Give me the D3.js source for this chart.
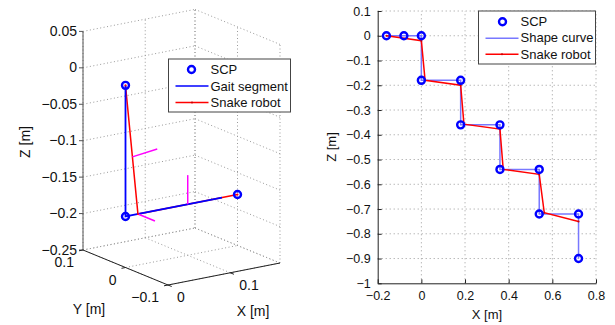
<!DOCTYPE html>
<html>
<head>
<meta charset="utf-8">
<script src="https://cdn.jsdelivr.net/npm/d3@7"></script>
<style>
  body { margin: 0; background: #fff; }
  svg { display: block; font-family: "Liberation Sans", Arial, Helvetica, sans-serif; }
</style>
</head>
<body>
<svg id="chart" width="615" height="325"></svg>
<script>
// ---- data: right plot (X-Z plane) ----
const scpX = [-0.16, -0.08, 0, 0, 0.18, 0.18, 0.36, 0.36, 0.54, 0.54, 0.72, 0.72];
const scpZ = [0, 0, 0, -0.18, -0.18, -0.36, -0.36, -0.54, -0.54, -0.72, -0.72, -0.9];
const robotX = [-0.16, 0, 0.017, 0.18, 0.195, 0.36, 0.375, 0.54, 0.563, 0.72];
const robotZ = [0, -0.02, -0.18, -0.2, -0.357, -0.377, -0.54, -0.56, -0.715, -0.75];
const xTicksR = [-0.2, 0, 0.2, 0.4, 0.6, 0.8];
const zTicksR = [0.1, 0, -0.1, -0.2, -0.3, -0.4, -0.5, -0.6, -0.7, -0.8, -0.9, -1];

// ---- data: left plot (3D, one gait segment) ----
const scp3 = [[0, 0, 0], [0, 0, -0.18], [0.18, 0, -0.18]];
const gait3 = [[0, 0, 0], [0, 0, -0.18], [0.155, 0, -0.18]];
const robot3 = [[0, 0, 0], [0.02, 0, -0.18], [0.18, 0, -0.18]];
const jointAxes3 = [
  [[0.011, 0, -0.10], [0.051, 0, -0.096]],
  [[0.10, 0, -0.18], [0.10, 0, -0.14]],
  [[0.02, 0, -0.18], [0.02, -0.04, -0.18]]
];
const xTicks3 = [0, 0.1];
const yTicks3 = [0.1, 0, -0.1];
const zTicks3 = [0.05, 0, -0.05, -0.1, -0.15, -0.2, -0.25];

const svg = d3.select('#chart');
const fmt = d3.format('~g');
const gridCol = '#9a9a9a';

// =============== left: 3D view ===============
const left = svg.append('g');
// each coordinate -> fraction of the box, then onto the projected box edges
const fx = d3.scaleLinear().domain([0, 0.18]).range([0, 1]);
const fy = d3.scaleLinear().domain([-0.1, 0.1]).range([0, 1]);
const fz = d3.scaleLinear().domain([-0.25, 0.05]).range([0, 1]);
const corner = [168, 285];       // (xmin, ymin, zmin)
const ex = [112, -22], ey = [-85, -35], ez = [0, -218.6];

function proj(p) {
  const a = fx(p[0]), b = fy(p[1]), c = fz(p[2]);
  return [corner[0] + a * ex[0] + b * ey[0] + c * ez[0],
          corner[1] + a * ex[1] + b * ey[1] + c * ez[1]];
}

const line3 = d3.line().x(p => proj(p)[0]).y(p => proj(p)[1]);

function seg3(g, a, b, col, dash, w) {
  g.append('path').attr('d', line3([a, b]))
    .attr('stroke', col).attr('stroke-width', w || 1).attr('fill', 'none')
    .attr('stroke-dasharray', dash || null);
}

// grid on back walls and floor
const grid3 = left.append('g');
const xMax = 0.18, yMax = 0.1, zMin = -0.25, zMax = 0.05;
zTicks3.forEach(z => {
  seg3(grid3, [0, yMax, z], [xMax, yMax, z], gridCol, '1,2.5');
  seg3(grid3, [xMax, yMax, z], [xMax, -0.1, z], gridCol, '1,2.5');
});
xTicks3.concat([xMax]).forEach(x => {
  seg3(grid3, [x, yMax, zMin], [x, yMax, zMax], gridCol, '1,2.5');
  seg3(grid3, [x, -0.1, zMin], [x, yMax, zMin], gridCol, '1,2.5');
});
yTicks3.forEach(y => {
  seg3(grid3, [xMax, y, zMin], [xMax, y, zMax], gridCol, '1,2.5');
  seg3(grid3, [0, y, zMin], [xMax, y, zMin], gridCol, '1,2.5');
});

// axis lines
seg3(left, [0, yMax, zMin], [0, yMax, zMax], '#555', null, 1);
seg3(left, [0, yMax, zMin], [0, -0.1, zMin], '#222', null, 1);
seg3(left, [0, -0.1, zMin], [xMax, -0.1, zMin], '#222', null, 1);

// z ticks + labels
zTicks3.forEach(z => {
  const p = proj([0, yMax, z]);
  left.append('line').attr('x1', p[0] - 4).attr('x2', p[0]).attr('y1', p[1]).attr('y2', p[1])
    .attr('stroke', '#555');
  left.append('text').attr('x', p[0] - 6).attr('y', p[1] + 4.5)
    .attr('text-anchor', 'end').attr('font-size', 14).attr('fill', '#111')
    .text(fmt(z));
});
// y ticks + labels
yTicks3.forEach(y => {
  const p = proj([0, y, zMin]);
  left.append('line').attr('x1', p[0]).attr('y1', p[1]).attr('x2', p[0] - 4).attr('y2', p[1] + 0.8)
    .attr('stroke', '#222');
  left.append('text').attr('x', p[0] - 9).attr('y', p[1] + 17)
    .attr('text-anchor', 'end').attr('font-size', 14).attr('fill', '#111')
    .text(fmt(y));
});
// x ticks + labels
xTicks3.forEach(x => {
  const p = proj([x, -0.1, zMin]);
  left.append('line').attr('x1', p[0]).attr('y1', p[1]).attr('x2', p[0] + 3.7).attr('y2', p[1] + 1.5)
    .attr('stroke', '#222');
  left.append('text').attr('x', p[0] + 9).attr('y', p[1] + 17)
    .attr('text-anchor', 'start').attr('font-size', 14).attr('fill', '#111')
    .text(fmt(x));
});

left.append('text').attr('transform', 'translate(30,142) rotate(-90)')
  .attr('text-anchor', 'middle').attr('font-size', 14).attr('fill', '#111').text('Z [m]');
left.append('text').attr('x', 89).attr('y', 314)
  .attr('text-anchor', 'middle').attr('font-size', 14).attr('fill', '#111').text('Y [m]');
left.append('text').attr('x', 253).attr('y', 316)
  .attr('text-anchor', 'middle').attr('font-size', 14).attr('fill', '#111').text('X [m]');

// data: snake robot, gait segment, joint axes, SCPs
left.append('path').attr('d', line3(robot3))
  .attr('stroke', '#ff0000').attr('stroke-width', 1.5).attr('fill', 'none');
left.append('path').attr('d', line3(gait3))
  .attr('stroke', '#0000ff').attr('stroke-width', 1.8).attr('fill', 'none');
jointAxes3.forEach(s => seg3(left, s[0], s[1], '#ff00ff', null, 1.5));
left.selectAll('circle.scp').data(scp3).enter().append('circle')
  .attr('cx', p => proj(p)[0]).attr('cy', p => proj(p)[1]).attr('r', 3.5)
  .attr('fill', 'none').attr('stroke', '#0000ff').attr('stroke-width', 2.4);
left.selectAll('circle.rd').data(robot3).enter().append('circle')
  .attr('cx', p => proj(p)[0]).attr('cy', p => proj(p)[1]).attr('r', 1)
  .attr('fill', '#ff0000');

// legend (left)
const lgL = left.append('g').attr('transform', 'translate(168.5,59)');
lgL.append('rect').attr('width', 122).attr('height', 53)
  .attr('fill', '#fff').attr('stroke', '#444').attr('stroke-width', 1);
lgL.append('circle').attr('cx', 23).attr('cy', 10.5).attr('r', 3.5)
  .attr('fill', 'none').attr('stroke', '#0000ff').attr('stroke-width', 2.4);
lgL.append('line').attr('x1', 7).attr('x2', 40).attr('y1', 27).attr('y2', 27)
  .attr('stroke', '#0000ff').attr('stroke-width', 1.5);
lgL.append('line').attr('x1', 7).attr('x2', 40).attr('y1', 43.5).attr('y2', 43.5)
  .attr('stroke', '#ff0000').attr('stroke-width', 1.5);
lgL.append('circle').attr('cx', 23.5).attr('cy', 43.5).attr('r', 1).attr('fill', '#cc0000');
['SCP', 'Gait segment', 'Snake robot'].forEach((t, i) => {
  lgL.append('text').attr('x', 42).attr('y', 15 + i * 16.6)
    .attr('font-size', 13).attr('fill', '#111').text(t);
});

// =============== right: X-Z plane ===============
const right = svg.append('g');
const x = d3.scaleLinear().domain([-0.2, 0.8]).range([377.7, 596]);
const z = d3.scaleLinear().domain([-1, 0.1]).range([283.3, 11]);

// grid
right.append('g').selectAll('line').data(xTicksR.slice(1)).enter().append('line')
  .attr('x1', d => x(d)).attr('x2', d => x(d)).attr('y1', z(-1)).attr('y2', z(0.1))
  .attr('stroke', gridCol).attr('stroke-dasharray', '1,3');
right.append('g').selectAll('line').data(zTicksR.slice(0, -1)).enter().append('line')
  .attr('x1', x(-0.2)).attr('x2', x(0.8)).attr('y1', d => z(d)).attr('y2', d => z(d))
  .attr('stroke', gridCol).attr('stroke-dasharray', '1,3');

const axL = right.append('g').attr('transform', `translate(${x(-0.2)},0)`)
  .call(d3.axisLeft(z).tickValues(zTicksR).tickFormat(fmt).tickSizeInner(-4).tickSizeOuter(0).tickPadding(7));
const axB = right.append('g').attr('transform', `translate(0,${z(-1)})`)
  .call(d3.axisBottom(x).tickValues(xTicksR).tickFormat(fmt).tickSizeInner(-4).tickSizeOuter(0).tickPadding(8));
[axL, axB].forEach(a => {
  a.select('.domain').attr('stroke', '#222');
  a.selectAll('.tick line').attr('stroke', '#222');
  a.selectAll('text').attr('font-size', 12.5).attr('fill', '#111')
    .attr('font-family', '"Liberation Sans", Arial, sans-serif');
});

right.append('text').attr('transform', 'translate(336,147) rotate(-90)')
  .attr('text-anchor', 'middle').attr('font-size', 13).attr('fill', '#111').text('Z [m]');
right.append('text').attr('x', 487).attr('y', 319)
  .attr('text-anchor', 'middle').attr('font-size', 13).attr('fill', '#111').text('X [m]');

const line2 = d3.line().x(d => x(d[0])).y(d => z(d[1]));
const scpPts = scpX.map((v, i) => [v, scpZ[i]]);
const robotPts = robotX.map((v, i) => [v, robotZ[i]]);

right.append('path').attr('d', line2(scpPts))
  .attr('stroke', '#7878ff').attr('stroke-width', 1.5).attr('fill', 'none');
right.append('path').attr('d', line2(robotPts))
  .attr('stroke', '#ff0000').attr('stroke-width', 1.5).attr('fill', 'none');
right.selectAll('circle.rd').data(robotPts).enter().append('circle')
  .attr('cx', d => x(d[0])).attr('cy', d => z(d[1])).attr('r', 1).attr('fill', '#cc0000');
right.selectAll('circle.scp').data(scpPts).enter().append('circle')
  .attr('cx', d => x(d[0])).attr('cy', d => z(d[1])).attr('r', 3.5)
  .attr('fill', 'none').attr('stroke', '#0000ff').attr('stroke-width', 2.4);

// legend (right)
const lgR = right.append('g').attr('transform', 'translate(478.5,11)');
lgR.append('rect').attr('width', 117).attr('height', 53)
  .attr('fill', '#fff').attr('stroke', '#444').attr('stroke-width', 1);
lgR.append('circle').attr('cx', 24).attr('cy', 10.7).attr('r', 3.5)
  .attr('fill', 'none').attr('stroke', '#0000ff').attr('stroke-width', 2.4);
lgR.append('line').attr('x1', 7).attr('x2', 40).attr('y1', 27.3).attr('y2', 27.3)
  .attr('stroke', '#7878ff').attr('stroke-width', 1.5);
lgR.append('line').attr('x1', 7).attr('x2', 40).attr('y1', 43.3).attr('y2', 43.3)
  .attr('stroke', '#ff0000').attr('stroke-width', 1.5);
lgR.append('circle').attr('cx', 23.5).attr('cy', 43.3).attr('r', 1).attr('fill', '#cc0000');
['SCP', 'Shape curve', 'Snake robot'].forEach((t, i) => {
  lgR.append('text').attr('x', 42).attr('y', 15 + i * 16.3)
    .attr('font-size', 13).attr('fill', '#111').text(t);
});
</script>
</body>
</html>
